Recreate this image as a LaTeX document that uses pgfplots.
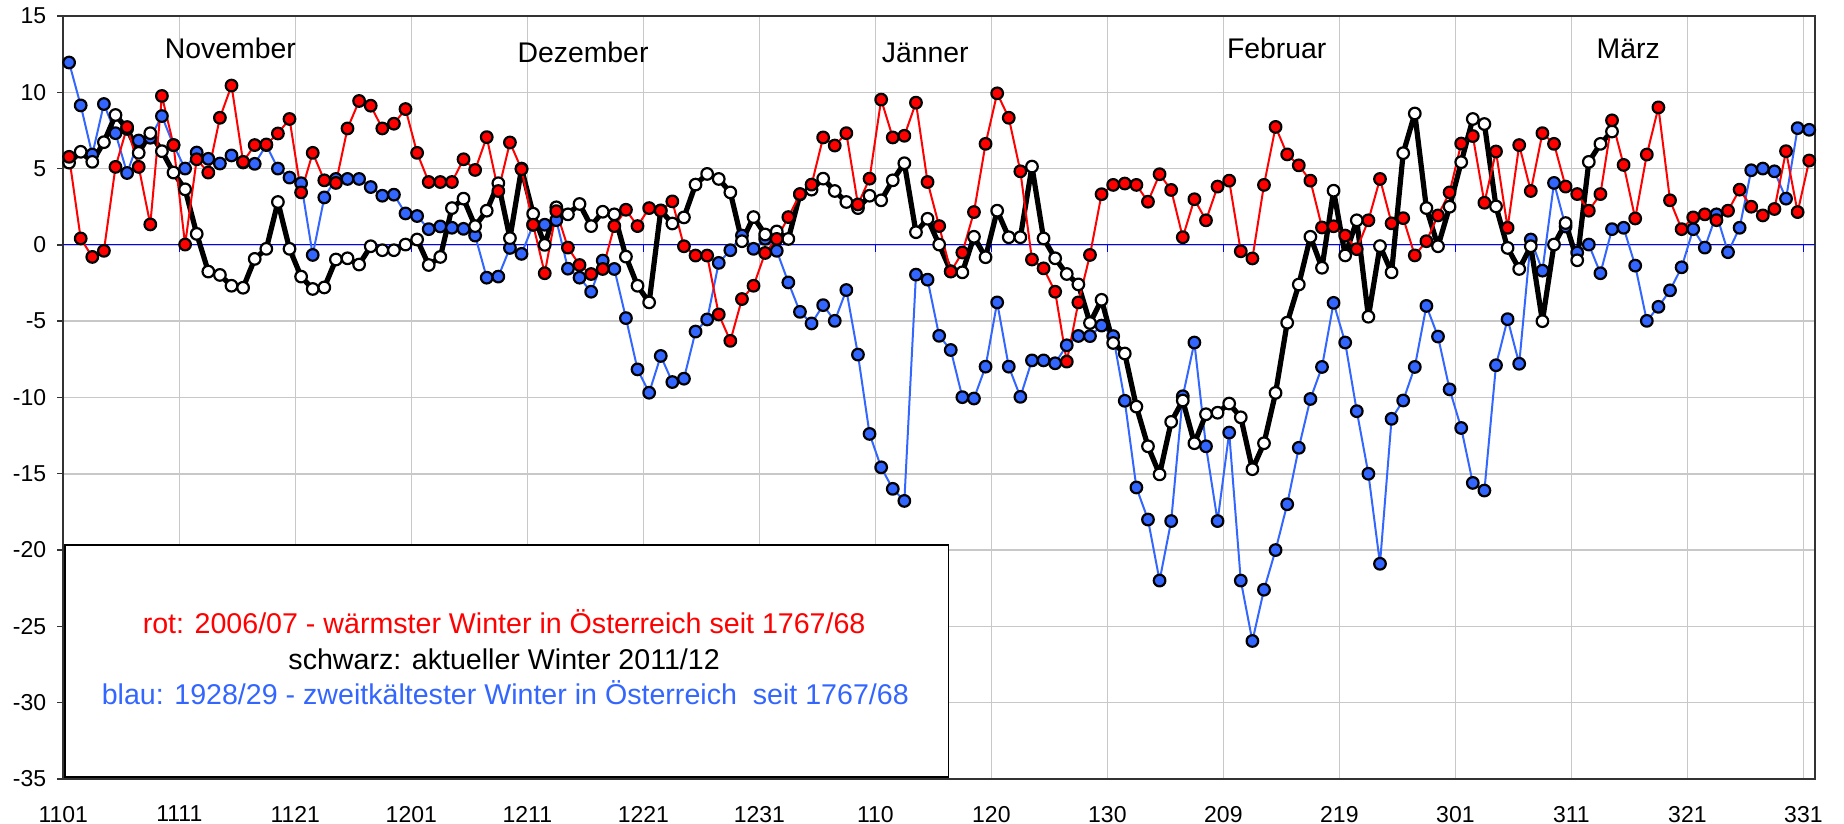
\documentclass[border=0pt]{standalone}
\usepackage{pgfplots}
\pgfplotsset{compat=1.18}
\usepackage{pgfplotstable}
\usepackage{fontspec}
\setmainfont{Liberation Sans}
\definecolor{rotc}{RGB}{255,0,0}
\definecolor{blauc}{RGB}{51,102,255}
\definecolor{gridc}{RGB}{200,200,200}

\pgfplotstableread{
d r k b
0 5.77 5.39 11.95
1 0.42 6.10 9.14
2 -0.79 5.44 5.92
3 -0.39 6.73 9.23
4 5.11 8.51 7.32
5 7.72 7.60 4.71
6 5.11 6.03 6.84
7 1.34 7.32 7.02
8 9.76 6.14 8.44
9 6.54 4.74 6.54
10 0.02 3.64 5.00
11 5.61 0.72 6.05
12 4.74 -1.75 5.64
13 8.33 -1.97 5.33
14 10.44 -2.68 5.86
15 5.44 -2.81 5.40
16 6.54 -0.92 5.31
17 6.58 -0.26 6.54
18 7.30 2.81 5.00
19 8.25 -0.26 4.41
20 3.44 -2.08 4.04
21 6.03 -2.89 -0.66
22 4.23 -2.79 3.11
23 4.06 -0.96 4.32
24 7.63 -0.88 4.32
25 9.43 -1.29 4.32
26 9.12 -0.09 3.79
27 7.63 -0.35 3.22
28 7.94 -0.35 3.29
29 8.90 0.02 2.06
30 6.03 0.35 1.89
31 4.12 -1.32 1.03
32 4.12 -0.79 1.21
33 4.12 2.41 1.12
34 5.61 3.03 1.05
35 4.91 1.23 0.61
36 7.06 2.24 -2.15
37 3.53 4.04 -2.08
38 6.71 0.44 -0.20
39 4.96 5.00 -0.59
40 1.32 2.04 1.32
41 -1.86 0.00 1.32
42 2.21 2.46 1.62
43 -0.18 2.00 -1.56
44 -1.32 2.68 -2.15
45 -1.91 1.23 -3.07
46 -1.58 2.17 -1.03
47 1.23 2.00 -1.58
48 2.30 -0.77 -4.80
49 1.23 -2.68 -8.16
50 2.41 -3.77 -9.69
51 2.24 2.26 -7.28
52 2.85 1.40 -8.99
53 -0.09 1.80 -8.77
54 -0.70 3.95 -5.68
55 -0.70 4.65 -4.89
56 -4.56 4.32 -1.18
57 -6.29 3.44 -0.35
58 -3.55 0.24 0.61
59 -2.68 1.82 -0.26
60 -0.53 0.68 0.40
61 0.39 0.88 -0.39
62 1.82 0.39 -2.46
63 3.33 3.31 -4.39
64 3.95 3.62 -5.15
65 7.04 4.34 -3.95
66 6.51 3.53 -4.98
67 7.32 2.81 -2.96
68 2.65 2.41 -7.19
69 4.34 3.22 -12.39
70 9.52 2.92 -14.58
71 7.04 4.23 -15.99
72 7.15 5.35 -16.78
73 9.32 0.83 -1.95
74 4.12 1.71 -2.28
75 1.23 0.02 -5.96
76 -1.75 -1.73 -6.89
77 -0.50 -1.80 -9.98
78 2.15 0.53 -10.07
79 6.62 -0.81 -7.98
80 9.93 2.24 -3.77
81 8.33 0.50 -7.98
82 4.82 0.50 -9.96
83 -0.96 5.13 -7.57
84 -1.54 0.42 -7.57
85 -3.07 -0.88 -7.76
86 -7.65 -1.91 -6.58
87 -3.77 -2.59 -5.97
88 -0.66 -5.12 -5.98
89 3.32 -3.60 -5.29
90 3.93 -6.43 -5.98
91 4.02 -7.12 -10.22
92 3.93 -10.60 -15.90
93 2.83 -13.20 -18.00
94 4.63 -15.04 -22.00
95 3.60 -11.60 -18.10
96 0.50 -10.20 -9.92
97 2.99 -13.00 -6.40
98 1.61 -11.10 -13.20
99 3.82 -11.00 -18.10
100 4.21 -10.40 -12.30
101 -0.42 -11.30 -22.00
102 -0.89 -14.70 -25.96
103 3.93 -13.00 -22.60
104 7.73 -9.70 -20.00
105 5.93 -5.10 -17.00
106 5.21 -2.60 -13.30
107 4.21 0.53 -10.10
108 1.14 -1.50 -8.00
109 1.22 3.55 -3.80
110 0.61 -0.69 -6.40
111 -0.28 1.61 -10.90
112 1.61 -4.71 -15.00
113 4.32 -0.08 -20.90
114 1.41 -1.80 -11.40
115 1.75 6.01 -10.20
116 -0.69 8.61 -8.00
117 0.24 2.41 -4.00
118 1.93 -0.09 -6.01
119 3.44 2.50 -9.47
120 6.64 5.42 -12.00
121 7.13 8.25 -15.60
122 2.76 7.92 -16.10
123 6.12 2.52 -7.89
124 1.12 -0.20 -4.87
125 6.54 -1.58 -7.79
126 3.53 -0.09 0.35
127 7.32 -5.00 -1.69
128 6.62 0.02 4.06
129 3.82 1.43 1.20
130 3.33 -1.01 -0.50
131 2.24 5.44 0.02
132 3.33 6.62 -1.86
133 8.16 7.43 1.03
134 5.24 nan 1.12
135 1.73 nan -1.36
136 5.92 nan -4.98
137 9.01 nan -4.06
138 2.92 nan -2.98
139 1.03 nan -1.47
140 1.80 nan 1.03
141 2.00 nan -0.18
142 1.62 nan 2.00
143 2.24 nan -0.48
144 3.62 nan 1.12
145 2.50 nan 4.89
146 1.93 nan 5.00
147 2.35 nan 4.82
148 6.14 nan 3.03
149 2.15 nan 7.65
150 5.53 nan 7.54
}\data

\begin{document}
\begin{tikzpicture}
\begin{axis}[
  scale only axis,
  width=875.9pt, height=381.5pt,
  xmin=-0.5, xmax=150.5, ymin=-35, ymax=15,
  xtick={-0.5,9.5,19.5,29.5,39.5,49.5,59.5,69.5,79.5,89.5,99.5,109.5,119.5,129.5,139.5,149.5},
  xticklabels={1101,1111,1121,1201,1211,1221,1231,110,120,130,209,219,301,311,321,331},
  ytick={-35,-30,-25,-20,-15,-10,-5,0,5,10,15},
  yticklabels={-35,-30,-25,-20,-15,-10,-5,0,5,10,15},
  grid=major,
  major grid style={gridc, line width=0.75pt},
  axis line style={black!80, line width=0.8pt},
  tick align=outside,
  ytick pos=left, xtick pos=bottom,
  major tick length=3pt,
  xtick style={draw=none},
  ytick style={black!80, line width=0.7pt},
  ticklabel style={font=\fontsize{11.5}{13}\selectfont},
  yticklabel style={xshift=-2pt},
  xticklabel style={yshift=-7pt},
]
\draw[blue, line width=0.6pt] (axis cs:-0.5,0) -- (axis cs:150.5,0);
\pgfplotsinvokeforeach{9.5,19.5,29.5,39.5,49.5,59.5,69.5,79.5,89.5,99.5,109.5,119.5,129.5,139.5,149.5}{
  \draw[blue, line width=0.6pt] (axis cs:#1,0) -- ([yshift=-3.5pt]axis cs:#1,0);
}
\addplot[blauc, line width=1pt, line join=round, mark=*, mark size=2.9pt,
  mark options={fill=blauc, draw=black, line width=1.1pt}] table[x=d,y=b]{\data};
\addplot[black, line width=2.6pt, line join=round, mark=*, mark size=2.9pt,
  mark options={fill=white, draw=black, line width=1.1pt}] table[x=d,y=k]{\data};
\addplot[rotc, line width=1pt, line join=round, mark=*, mark size=2.9pt,
  mark options={fill=rotc, draw=black, line width=1.1pt}] table[x=d,y=r]{\data};

\node[anchor=base, font=\fontsize{14.2}{16}\selectfont] at (axis cs:13.9,12.24) {November};
\node[anchor=base, font=\fontsize{14.2}{16}\selectfont] at (axis cs:44.3,11.97) {Dezember};
\node[anchor=base, font=\fontsize{14.2}{16}\selectfont] at (axis cs:73.8,11.97) {Jänner};
\node[anchor=base, font=\fontsize{14.2}{16}\selectfont] at (axis cs:104.1,12.24) {Februar};
\node[anchor=base, font=\fontsize{14.2}{16}\selectfont] at (axis cs:134.4,12.24) {März};

\draw[black, line width=0.6pt, fill=white] (axis cs:-0.35,-19.67) rectangle (axis cs:75.8,-34.87);
\node[anchor=base, text=rotc, font=\fontsize{14.3}{16}\selectfont] at (axis cs:37.5,-25.5) {rot: 2006/07 - wärmster Winter in Österreich seit 1767/68};
\node[anchor=base, text=black, font=\fontsize{14.3}{16}\selectfont] at (axis cs:37.5,-27.8) {schwarz: aktueller Winter 2011/12};
\node[anchor=base, text=blauc, font=\fontsize{14.3}{16}\selectfont] at (axis cs:37.6,-30.1) {blau: 1928/29 - zweitkältester Winter in Österreich\ \ seit 1767/68};
\end{axis}
\pgfresetboundingbox
\path[use as bounding box] ([xshift=-31.65pt,yshift=-22.5pt]current axis.south west) rectangle ([xshift=14.5pt,yshift=8pt]current axis.north east);
\end{tikzpicture}
\end{document}
